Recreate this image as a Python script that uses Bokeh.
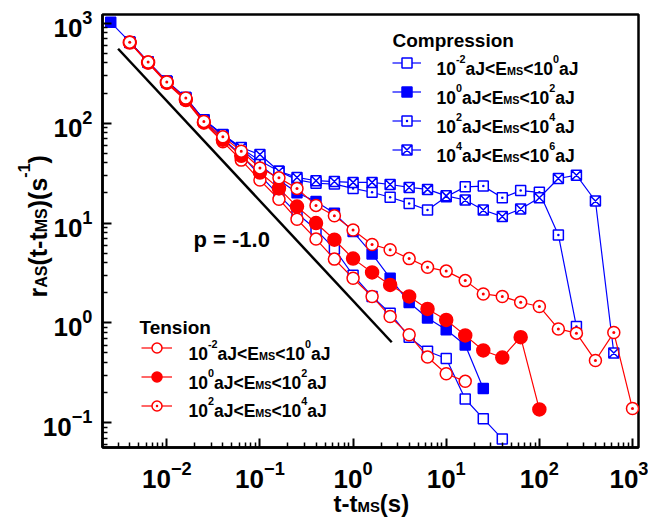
import math
from bokeh.plotting import figure
from bokeh.models import (Label, Legend, LegendItem, FixedTicker, LogTickFormatter, Range1d,
                          BoxAnnotation)
from bokeh.embed import file_html
from bokeh.resources import INLINE

# ---------------- data ----------------
# Compression, 10^-2 aJ < E_MS < 10^0 aJ  (open squares)
c1_t = [0.004, 0.0063, 0.01, 0.016, 0.025, 0.04, 0.063, 0.1, 0.16, 0.25, 0.4, 0.63, 1.0, 1.6, 2.5, 4.0, 6.3, 10, 16, 25, 40]
c1_r = [640, 405, 255, 172, 104, 70, 48, 30, 19, 12.5, 8.6, 5.5, 3.0, 1.84, 1.25, 0.72, 0.52, 0.44, 0.173, 0.11, 0.069]
# Compression, 10^0 aJ < E_MS < 10^2 aJ (filled squares)
c2_t = [0.0025, 0.004, 0.0063, 0.01, 0.016, 0.025, 0.04, 0.063, 0.1, 0.16, 0.25, 0.4, 0.63, 1.0, 1.6, 2.5, 4.0, 6.3, 10, 16, 25]
c2_r = [1020, 650, 410, 262, 176, 108, 76, 55, 38, 27, 20.1, 16.4, 12.5, 8.2, 4.9, 2.8, 1.6, 1.12, 0.855, 0.6, 0.22]
# Compression, 10^2 aJ < E_MS < 10^4 aJ (dotted squares)
c3_t = [0.004, 0.0063, 0.01, 0.016, 0.025, 0.04, 0.063, 0.1, 0.16, 0.25, 0.4, 0.63, 1.0, 1.6, 2.5, 4.0, 6.3, 10, 16, 25, 40, 63, 100, 160, 250]
c3_r = [650, 410, 262, 180, 108, 76, 56, 42, 33, 27, 25, 24.5, 22.2, 20.3, 18.1, 15.7, 13.5, 18.3, 23.0, 23.4, 17.9, 21.1, 20.3, 7.6, 0.92]
# Compression, 10^4 aJ < E_MS < 10^6 aJ (crossed squares)
c4_t = [0.004, 0.0063, 0.01, 0.016, 0.025, 0.04, 0.063, 0.1, 0.16, 0.25, 0.4, 0.63, 1.0, 1.6, 2.5, 4.0, 6.3, 10, 16, 25, 40, 63, 100, 160, 250, 400, 630]
c4_r = [650, 410, 262, 180, 108, 77, 57, 48.5, 33, 28.6, 26.5, 26, 25.5, 25.5, 24.3, 22.7, 21.7, 18.7, 17.0, 13.5, 11.6, 13.8, 17.9, 27.9, 30.1, 16.6, 0.5]
# Tension, 10^-2 aJ < E_MS < 10^0 aJ (open circles)
t1_t = [0.004, 0.0063, 0.01, 0.016, 0.025, 0.04, 0.063, 0.1, 0.16, 0.25, 0.4, 0.63, 1.0, 1.6, 2.5, 4.0, 6.3, 10, 16]
t1_r = [640, 400, 250, 168, 100, 65, 42.6, 26.9, 17.3, 10.9, 6.9, 4.35, 2.8, 1.84, 1.16, 0.76, 0.456, 0.31, 0.26]
# Tension, 10^0 aJ < E_MS < 10^2 aJ (filled circles)
t2_t = [0.004, 0.0063, 0.01, 0.016, 0.025, 0.04, 0.063, 0.1, 0.16, 0.25, 0.4, 0.63, 1.0, 1.6, 2.5, 4.0, 6.3, 10, 16, 25, 40, 63, 100]
t2_r = [640, 405, 255, 172, 102, 68, 47, 32, 22.2, 14.6, 10, 6.8, 4.4, 3.2, 2.4, 1.84, 1.38, 1.07, 0.75, 0.53, 0.45, 0.72, 0.136]
# Tension, 10^2 aJ < E_MS < 10^4 aJ (dotted circles)
t3_t = [0.004, 0.0063, 0.01, 0.016, 0.025, 0.04, 0.063, 0.1, 0.16, 0.25, 0.4, 0.63, 1.0, 1.6, 2.5, 4.0, 6.3, 10, 16, 25, 40, 63, 100, 160, 250, 400, 630, 1000]
t3_r = [646, 408, 258, 178, 104, 72.8, 52.4, 35.6, 28.3, 22.2, 15, 11.8, 8.5, 6.1, 5.4, 4.4, 3.6, 3.3, 2.65, 1.95, 1.84, 1.61, 1.46, 0.87, 0.79, 0.42, 0.80, 0.139]
# reference power-law line, p = -1.0
ref_t = [0.0030, 2.6]
ref_r = [555, 0.64]

x_major = [1e-2, 1e-1, 1e0, 1e1, 1e2, 1e3]
y_major = [1e-1, 1e0, 1e1, 1e2, 1e3]
x_lim = (0.00204, 1160)
y_lim = (0.0566, 1222)

BLUE = "#0000FF"
RED = "#FF0000"
FONT = "Liberation Sans"

# ---------------- layout (pixels) ----------------
W, H = 648, 519
BL, BR, BT, BB = 102, 638, 14, 447      # axes box inside the canvas

# the plotting frame covers the whole canvas; the axes box is drawn inside it
lx0, lx1 = math.log10(x_lim[0]), math.log10(x_lim[1])
ppx = (BR - BL) / (lx1 - lx0)
ly0, ly1 = math.log10(y_lim[0]), math.log10(y_lim[1])
ppy = (BB - BT) / (ly1 - ly0)
xr = Range1d(10 ** (lx0 - BL / ppx), 10 ** (lx1 + (W - BR) / ppx))
yr = Range1d(10 ** (ly0 - (H - BB) / ppy), 10 ** (ly1 + BT / ppy))

p = figure(width=W, height=H, x_axis_type="log", y_axis_type="log",
           x_range=xr, y_range=yr, output_backend="svg", toolbar_location=None,
           min_border=0)
p.grid.visible = False
p.outline_line_color = None
p.background_fill_color = "white"
p.border_fill_color = "white"

minor = [m * 10.0 ** e for e in range(-4, 4) for m in range(2, 10)]
x_minor = [v for v in minor if x_lim[0] < v < x_lim[1]]
y_minor = [v for v in minor if y_lim[0] < v < y_lim[1]]
p.xaxis.ticker = FixedTicker(ticks=x_major, minor_ticks=x_minor)
p.yaxis.ticker = FixedTicker(ticks=y_major, minor_ticks=y_minor)
p.xaxis.fixed_location = y_lim[0]
p.yaxis.fixed_location = x_lim[0]
p.xaxis.bounds = x_lim
p.yaxis.bounds = y_lim
for ax in (p.xaxis[0], p.yaxis[0]):
    ax.formatter = LogTickFormatter()
    ax.axis_line_width = 2.5
    ax.axis_line_color = "black"
    ax.major_tick_in = 9
    ax.major_tick_out = 0
    ax.minor_tick_in = 5
    ax.minor_tick_out = 0
    ax.major_tick_line_width = 2
    ax.minor_tick_line_width = 1.5
    ax.major_label_text_font = FONT
    ax.major_label_text_font_style = "bold"
    ax.major_label_text_font_size = "26px"
    ax.major_label_text_color = "black"
p.xaxis.major_label_standoff = 13
p.yaxis.major_label_standoff = 10

p.add_layout(BoxAnnotation(left=x_lim[0], right=x_lim[1], bottom=y_lim[0], top=y_lim[1],
                           fill_color=None, line_color="black", line_width=2.5,
                           line_alpha=1.0, level="underlay"))


def series(xs, ys, color, marker, fill, size):
    rl = p.line(xs, ys, line_color=color, line_width=1.2)
    rs = p.scatter(xs, ys, marker=marker, size=size, line_color=color,
                   fill_color=fill, line_width=1.5)
    return [rl, rs]


# reference line
p.line(ref_t, ref_r, line_color="black", line_width=2.5)

rc1 = series(c1_t, c1_r, BLUE, "square", "white", 10)
rc2 = series(c2_t, c2_r, BLUE, "square", BLUE, 10)
rc3 = series(c3_t, c3_r, BLUE, "square_dot", "white", 10)
rc4 = series(c4_t, c4_r, BLUE, "square_x", "white", 10)
rt1 = series(t1_t, t1_r, RED, "circle", "white", 12)
rt2 = series(t2_t, t2_r, RED, "circle", RED, 13)
rt3 = series(t3_t, t3_r, RED, "circle_dot", "white", 12)

GH, SP = 25, 4


# legends (symbols only; labels are drawn as rich text below)
def make_legend(groups, left, first_row, gw):
    bottom = first_row - GH / 2 + len(groups) * GH + (len(groups) - 1) * SP
    leg = Legend(items=[LegendItem(label=" ", renderers=g) for g in groups],
                 location=(left, H - bottom), orientation="vertical",
                 glyph_width=gw, glyph_height=GH, label_height=GH, label_width=4,
                 spacing=SP, padding=0, margin=0, label_standoff=0,
                 border_line_color=None, background_fill_alpha=0,
                 label_text_font_size="4px")
    p.add_layout(leg)


comp_rows = [62, 91, 120, 149]
tens_rows = [347, 376, 404]
make_legend([rc1, rc2, rc3, rc4], 392, comp_rows[0], 29)
make_legend([rt1, rt2, rt3], 141, tens_rows[0], 31)

# ---------------- rich text helper ----------------
WID = {'0': .556, '1': .556, '2': .556, '3': .556, '4': .556, '5': .556, '6': .556,
       '7': .556, '8': .556, '9': .556, 'a': .556, 'J': .556, '<': .584, 'E': .667,
       'M': .833, 'S': .667, '-': .333, 't': .333, '(': .333, ')': .333, 's': .556,
       'r': .389, 'A': .722, ' ': .278, 'p': .611, '=': .584, '.': .278}


def tw(s, fs):
    return sum(WID.get(c, 0.6) for c in s) * fs


def rich(x, y, parts, size, vertical=False, scale=0.62):
    """x, y: canvas pixels (top-left origin) of the baseline start."""
    adv = 0.0
    for txt, kind in parts:
        fs = size if kind == "n" else size * scale
        up = 0.0 if kind == "n" else (0.55 * size if kind == "sup" else -0.16 * size)
        if not vertical:
            sx, sy = x + adv, y - up
        else:
            sx, sy = x - up, y - adv
        p.add_layout(Label(x=sx, y=sy, x_units="canvas", y_units="canvas",
                           text=txt, angle=(math.pi / 2 if vertical else 0),
                           text_font=FONT, text_font_style="bold",
                           text_font_size=f"{fs:.1f}px", text_color="black",
                           text_baseline="alphabetic", text_align="left"))
        adv += tw(txt, fs)


def energy(a, b):
    return [("10", "n"), (a, "sup"), ("aJ<E", "n"), ("MS", "sub"),
            ("<10", "n"), (b, "sup"), ("aJ", "n")]


comp_labels = [("-2", "0"), ("0", "2"), ("2", "4"), ("4", "6")]
tens_labels = [("-2", "0"), ("0", "2"), ("2", "4")]

rich(392, 40, [("Compression", "n")], 19)
for yy, (a, b) in zip(comp_rows, comp_labels):
    rich(436, yy + 6, energy(a, b), 17.5)
rich(139, 327, [("Tension", "n")], 19)
for yy, (a, b) in zip(tens_rows, tens_labels):
    rich(188, yy + 6, energy(a, b), 17.5)

rich(193, 239, [("p = -1.0", "n")], 22)

# axis titles
rich(333, 503, [("t-t", "n"), ("MS", "sub"), ("(s)", "n")], 24)
rich(37, 297, [("r", "n"), ("AS", "sub"), ("(t-t", "n"), ("MS", "sub"), (")(s", "n"),
               ("-1", "sup"), (")", "n")], 25, vertical=True, scale=0.64)

open("out.html", "w").write(file_html(p, INLINE))
